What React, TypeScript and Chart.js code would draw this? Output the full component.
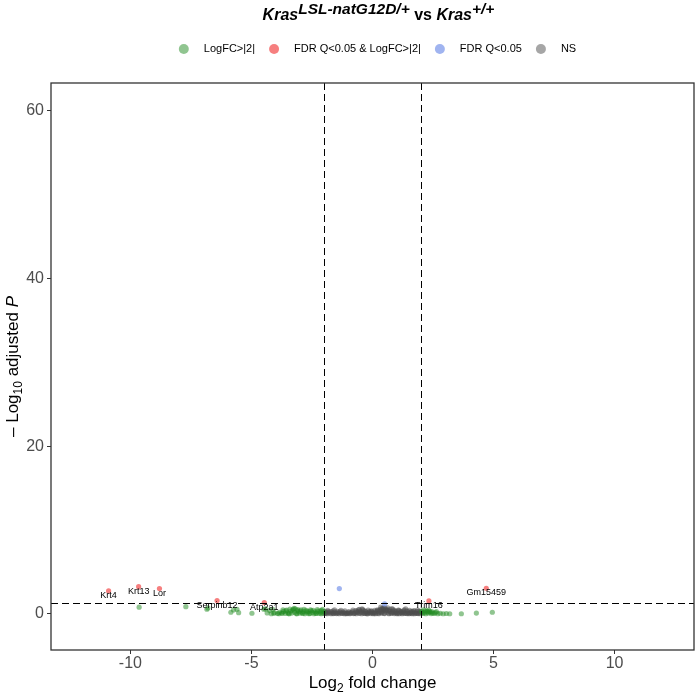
import React, { useEffect, useRef } from "react";
import { Chart, registerables } from "chart.js";

Chart.register(...registerables);

const FONT = '"Liberation Sans", Arial, Helvetica, sans-serif';

// ---- data (log2 fold change, -log10 adjusted P) ----
const nsX = [
  -1.98, -1.93, -1.87, -1.82, -1.76, -1.71, -1.66, -1.6, -1.55, -1.49, -1.44, -1.38, -1.33, -1.27, -1.22, -1.16,
  -1.11, -1.05, -1.0, -0.94, -0.89, -0.83, -0.78, -0.72, -0.67, -0.61, -0.56, -0.5, -0.45, -0.43, -0.39, -0.34,
  -0.28, -0.23, -0.17, -0.12, -0.06, -0.01, 0.04, 0.1, 0.15, 0.21, 0.26, 0.31, 0.36, 0.42, 0.47, 0.52, 0.58, 0.63,
  0.68, 0.74, 0.79, 0.85, 0.9, 0.96, 1.01, 1.07, 1.12, 1.18, 1.23, 1.29, 1.34, 1.4, 1.45, 1.51, 1.56, 1.62, 1.67,
  1.73, 1.78, 1.84, 1.89, 1.95,
  -1.95, -1.84, -1.68, -1.52, -1.35, -1.19, -1.02, -0.86, -0.7, -0.58, -0.47, -0.36, -0.25, -0.14, -0.03, 0.07,
  0.18, 0.28, 0.34, 0.4, 0.45, 0.55, 0.6, 0.7, 0.82, 0.93, 1.04, 1.15, 1.26, 1.37, 1.48, 1.6, 1.7, 1.82, 1.93, 1.98,
  -1.9, -1.62, -1.41, -1.25, -1.08, -0.92, -0.75, -0.64, -0.52, -0.31, -0.2, -0.08, 0.01, 0.12, 0.24, 0.38, 0.5,
  0.66, 0.77, 0.88, 0.99, 1.1, 1.21, 1.32, 1.43, 1.54, 1.65, 1.76, 1.87,
  -1.96, -1.85, -1.74, -1.63, -1.57, -1.46, -1.3, -1.14, -0.98, -0.81, -0.66, -0.54, -0.41, -0.3, -0.18, -0.05,
  0.09, 0.2, 0.3, 0.37, 0.44, 0.49, 0.57, 0.65, 0.72, 0.8, 0.87, 0.98, 1.09, 1.2, 1.31, 1.42, 1.53, 1.64, 1.75,
  1.86, 1.97,
];
const nsY = [
  0.05, 0.12, 0.03, 0.18, 0.08, 0.02, 0.14, 0.06, 0.21, 0.04, 0.1, 0.02, 0.16, 0.07, 0.25, 0.03,
  0.12, 0.05, 0.19, 0.02, 0.09, 0.28, 0.04, 0.13, 0.02, 0.22, 0.07, 0.35, 0.03, 0.62, 0.15, 0.05,
  0.27, 0.02, 0.11, 0.31, 0.04, 0.17, 0.02, 0.24, 0.08, 0.41, 0.03, 0.52, 0.14, 0.66, 0.06, 0.38, 0.21, 0.74,
  0.03, 0.29, 0.11, 0.55, 0.04, 0.18, 0.02, 0.47, 0.09, 0.23, 0.03, 0.36, 0.12, 0.05, 0.27, 0.02, 0.15, 0.06, 0.21,
  0.03, 0.11, 0.28, 0.04, 0.14,
  0.22, 0.3, 0.26, 0.1, 0.32, 0.14, 0.08, 0.17, 0.4, 0.48, 0.22, 0.4, 0.14, 0.2, 0.3, 0.13,
  0.3, 0.2, 0.8, 0.32, 0.45, 0.6, 0.46, 0.35, 0.2, 0.4, 0.13, 0.33, 0.18, 0.6, 0.14, 0.3, 0.4, 0.08, 0.34, 0.02,
  0.09, 0.04, 0.12, 0.06, 0.03, 0.1, 0.05, 0.2, 0.09, 0.06, 0.02, 0.12, 0.08, 0.03, 0.07, 0.1, 0.04,
  0.09, 0.05, 0.13, 0.07, 0.02, 0.1, 0.06, 0.04, 0.08, 0.03, 0.11, 0.05,
  0.31, 0.42, 0.28, 0.37, 0.48, 0.3, 0.44, 0.36, 0.29, 0.47, 0.33, 0.55, 0.52, 0.34, 0.46, 0.38,
  0.44, 0.5, 0.36, 0.62, 0.58, 0.7, 0.5, 0.42, 0.55, 0.64, 0.38, 0.3, 0.42, 0.28, 0.5, 0.36, 0.44, 0.27, 0.33,
  0.45, 0.3,
];

const fcX = [
  -9.64, -7.71, -6.84, -6.8, -5.85, -5.74, -5.6, -5.53, -4.98, -4.49, -4.25, -4.08, -3.87, -3.73,
  -4.42, -4.12, -4.35, -4.18, -4.05, -3.92, -3.85,
  -3.75, -3.68, -3.6, -3.55, -3.5, -3.44, -3.38, -3.33, -3.27, -3.22, -3.19, -3.15, -3.1, -3.05, -3.0, -2.95,
  -2.9, -2.85, -2.8, -2.74, -2.69, -2.64, -2.58, -2.53, -2.48, -2.42, -2.37, -2.31, -2.26, -2.2, -2.15, -2.1,
  -2.05, -2.02, -3.46, -3.12, -2.88, -2.62, -2.34, -2.12,
  -3.7, -3.58, -3.41, -3.3, -3.24, -3.08, -2.98, -2.83, -2.71, -2.56, -2.45, -2.28, -2.17, -2.07,
  2.03, 2.08, 2.11, 2.15, 2.2, 2.25, 2.3, 2.32, 2.38, 2.42, 2.48, 2.55, 2.64, 2.7, 2.8, 2.92, 3.05, 3.19, 3.67,
  4.29, 4.95, 2.06, 2.18, 2.27, 2.36, 2.45, 2.6,
];
const fcY = [
  0.8, 0.87, 0.56, 0.72, 0.2, 0.48, 0.56, 0.15, 0.08, 0.56, 0.4, 0.08, 0.02, 0.08,
  0.6, 0.55, 0.12, 0.02, 0.15, 0.05, 0.2,
  0.1, 0.3, 0.05, 0.45, 0.15, 0.02, 0.35, 0.1, 0.55, 0.2, 0.62, 0.04, 0.4, 0.25, 0.08, 0.5,
  0.15, 0.3, 0.02, 0.42, 0.12, 0.28, 0.06, 0.38, 0.18, 0.03, 0.25, 0.1, 0.33, 0.05, 0.2, 0.4,
  0.08, 0.28, 0.04, 0.02, 0.06, 0.03, 0.05, 0.02,
  0.5, 0.36, 0.58, 0.44, 0.66, 0.52, 0.34, 0.56, 0.3, 0.5, 0.44, 0.52, 0.36, 0.55,
  0.3, 0.05, 0.48, 0.15, 0.02, 0.35, 0.1, 0.45, 0.2, 0.04, 0.12, 0.06, 0.27, 0.03, 0.08, 0.02, 0.05, 0.02, 0.02,
  0.1, 0.2, 0.22, 0.36, 0.25, 0.3, 0.28, 0.15,
];

const sigGenes = ["Krt4", "Krt13", "Lor", "Serpinb12", "Atp2a1", "Trim16", "Gm15459"];
const sigX = [-10.9, -9.66, -8.8, -6.42, -4.47, 2.33, 4.7];
const sigY = [2.74, 3.25, 3.02, 1.59, 1.35, 1.55, 3.06];

const fdrX = [-1.37, 0.5];
const fdrY = [3.02, 1.19];

const xTicks = [-10, -5, 0, 5, 10];
const yTicks = [0, 20, 40, 60];
const fcCutoff = 2;
const pCutoff = 1.301;

const legendNames = ["LogFC>|2|", "FDR Q<0.05 & LogFC>|2|", "FDR Q<0.05", "NS"];
const legendColors = [
  "rgba(34,139,34,0.5)",
  "rgba(238,0,0,0.5)",
  "rgba(65,105,225,0.5)",
  "rgba(77,77,77,0.5)",
];

type Seg = { t: string; size: number; bold?: boolean; italic?: boolean; dy?: number };

function fontOf(s: Seg) {
  return `${s.italic ? "italic " : ""}${s.bold ? "bold " : ""}${s.size}px ${FONT}`;
}

function drawRich(ctx: CanvasRenderingContext2D, segs: Seg[], cx: number, baseY: number) {
  let total = 0;
  for (const s of segs) {
    ctx.font = fontOf(s);
    total += ctx.measureText(s.t).width;
  }
  let x = cx - total / 2;
  ctx.textAlign = "left";
  ctx.textBaseline = "alphabetic";
  for (const s of segs) {
    ctx.font = fontOf(s);
    ctx.fillText(s.t, x, baseY + (s.dy || 0));
    x += ctx.measureText(s.t).width;
  }
}

const pts = (xs: number[], ys: number[]) => xs.map((x, i) => ({ x, y: ys[i] }));

const overlayPlugin = {
  id: "volcanoOverlay",
  afterDatasetsDraw(chart: any) {
    const { ctx, chartArea: a, scales } = chart;
    const xs = scales.x;
    const ys = scales.y;
    ctx.save();
    ctx.beginPath();
    ctx.rect(a.left, a.top, a.right - a.left, a.bottom - a.top);
    ctx.clip();
    ctx.strokeStyle = "#000";
    ctx.lineWidth = 1;
    ctx.setLineDash([7, 4]);
    for (const v of [-fcCutoff, fcCutoff]) {
      const px = Math.round(xs.getPixelForValue(v)) + 0.5;
      ctx.beginPath();
      ctx.moveTo(px, a.top);
      ctx.lineTo(px, a.bottom);
      ctx.stroke();
    }
    const py = Math.round(ys.getPixelForValue(pCutoff)) + 0.5;
    ctx.beginPath();
    ctx.moveTo(a.left, py);
    ctx.lineTo(a.right, py);
    ctx.stroke();
    ctx.setLineDash([]);
    // gene labels
    ctx.fillStyle = "#000";
    ctx.font = `9px ${FONT}`;
    ctx.textAlign = "center";
    ctx.textBaseline = "middle";
    sigGenes.forEach((g, i) => {
      ctx.fillText(g, xs.getPixelForValue(sigX[i]), ys.getPixelForValue(sigY[i]) + 4.5);
    });
    ctx.restore();
    // panel border
    ctx.save();
    ctx.strokeStyle = "#333";
    ctx.lineWidth = 1.3;
    ctx.strokeRect(a.left, a.top, a.right - a.left, a.bottom - a.top);
    ctx.restore();
  },
  afterDraw(chart: any) {
    const { ctx, chartArea: a } = chart;
    const cx = (a.left + a.right) / 2;
    const cy = (a.top + a.bottom) / 2;
    ctx.save();
    ctx.fillStyle = "#000";
    // title
    drawRich(
      ctx,
      [
        { t: "Kras", size: 16, bold: true, italic: true },
        { t: "LSL-natG12D/+", size: 15.5, bold: true, italic: true, dy: -6 },
        { t: " vs ", size: 16, bold: true },
        { t: "Kras", size: 16, bold: true, italic: true },
        { t: "+/+", size: 15.5, bold: true, italic: true, dy: -6 },
      ],
      cx + 6,
      20
    );
    // legend
    ctx.font = `11px ${FONT}`;
    const widths = legendNames.map((n) => ctx.measureText(n).width);
    const span = widths.reduce((s, w) => s + w + 20, 0) + 19 * (legendNames.length - 1) + 5;
    let lx = cx + 5 - span / 2 + 5;
    const ly = 49;
    legendNames.forEach((n, i) => {
      ctx.fillStyle = legendColors[i];
      ctx.beginPath();
      ctx.arc(lx, ly, 5, 0, Math.PI * 2);
      ctx.fill();
      ctx.fillStyle = "#000";
      ctx.textAlign = "left";
      ctx.textBaseline = "middle";
      ctx.font = `11px ${FONT}`;
      ctx.fillText(n, lx + 20, ly);
      lx += 20 + widths[i] + 19;
    });
    // x axis title
    ctx.fillStyle = "#000";
    drawRich(
      ctx,
      [
        { t: "Log", size: 17 },
        { t: "2", size: 12, dy: 4 },
        { t: " fold change", size: 17 },
      ],
      cx,
      688
    );
    // y axis title
    ctx.save();
    ctx.translate(18, cy);
    ctx.rotate(-Math.PI / 2);
    drawRich(
      ctx,
      [
        { t: "\u2013 Log", size: 17 },
        { t: "10", size: 12, dy: 4 },
        { t: " adjusted ", size: 17 },
        { t: "P", size: 17, italic: true },
      ],
      0,
      0
    );
    ctx.restore();
    ctx.restore();
  },
};

export default function App() {
  const ref = useRef<HTMLCanvasElement | null>(null);
  useEffect(() => {
    if (!ref.current) return;
    const tickFont = { family: FONT, size: 16 };
    const common = { borderWidth: 0, pointRadius: 2.6 };
    const chart = new Chart(ref.current, {
      type: "scatter",
      data: {
        datasets: [
          { label: legendNames[1], data: pts(sigX, sigY), backgroundColor: legendColors[1], order: 0, ...common },
          { label: legendNames[2], data: pts(fdrX, fdrY), backgroundColor: legendColors[2], order: 1, ...common },
          { label: legendNames[0], data: pts(fcX, fcY), backgroundColor: legendColors[0], order: 2, ...common },
          { label: legendNames[3], data: pts(nsX, nsY), backgroundColor: legendColors[3], order: 3, ...common },
        ],
      },
      options: {
        responsive: false,
        animation: false,
        devicePixelRatio: 1,
        layout: { autoPadding: false, padding: { top: 83, right: 2, left: 0, bottom: 0 } },
        plugins: {
          legend: { display: false },
          title: { display: false },
          tooltip: { enabled: false },
        },
        scales: {
          x: {
            type: "linear",
            min: -13.28,
            max: 13.28,
            afterBuildTicks: (s: any) => {
              s.ticks = xTicks.map((v) => ({ value: v }));
            },
            afterFit: (s: any) => {
              s.height = 44;
              s.paddingLeft = 0;
              s.paddingRight = 0;
            },
            ticks: {
              color: "#4d4d4d",
              font: tickFont,
              padding: 0,
              maxRotation: 0,
              autoSkip: false,
              callback: (v: any) => String(v),
            },
            grid: {
              display: true,
              drawOnChartArea: false,
              drawTicks: true,
              tickLength: 4,
              color: "#333",
            },
            border: { display: false },
          },
          y: {
            type: "linear",
            min: -4.3,
            max: 63.3,
            afterBuildTicks: (s: any) => {
              s.ticks = yTicks.map((v) => ({ value: v }));
            },
            afterFit: (s: any) => {
              s.width = 51;
              s.paddingTop = 0;
              s.paddingBottom = 0;
            },
            ticks: {
              color: "#4d4d4d",
              font: tickFont,
              padding: 3,
              autoSkip: false,
              callback: (v: any) => String(v),
            },
            grid: {
              display: true,
              drawOnChartArea: false,
              drawTicks: true,
              tickLength: 4,
              color: "#333",
            },
            border: { display: false },
          },
        },
      },
      plugins: [overlayPlugin],
    } as any);
    return () => chart.destroy();
  }, []);
  return (
    <div style={{ position: "absolute", left: 0, top: 0, width: 696, height: 694, background: "#fff" }}>
      <canvas ref={ref} width={696} height={694} style={{ display: "block" }} />
    </div>
  );
}
